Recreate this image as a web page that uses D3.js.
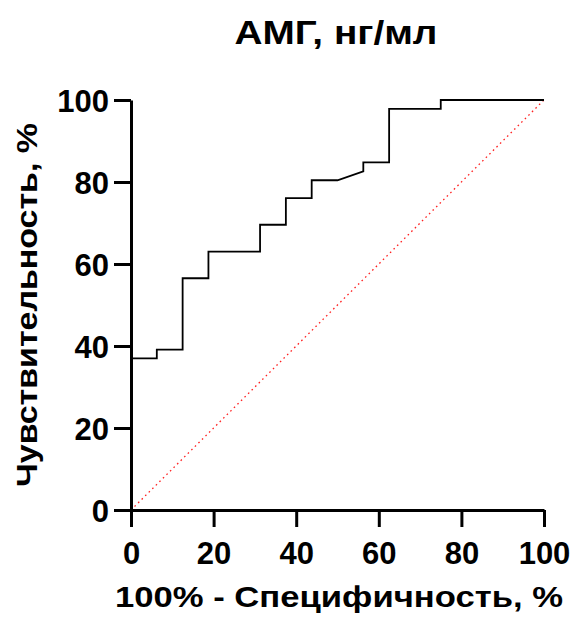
<!DOCTYPE html>
<html>
<head>
<meta charset="utf-8">
<script src="https://cdn.jsdelivr.net/npm/d3@7"></script>
<style>
  body { margin: 0; background: #fff; }
  text { font-family: "Liberation Sans", Arial, sans-serif; font-weight: bold; }
</style>
</head>
<body>
<svg width="574" height="617"></svg>
<script>
// ROC curve points: 100% - specificity (x) and sensitivity (y)
const specificity = [0, 0, 6.25, 6.25, 12.5, 12.5, 18.75, 18.75, 31.25, 31.25, 37.5, 37.5,
    43.75, 43.75, 50, 56.25, 56.25, 62.5, 62.5, 75, 75, 100];
const sensitivity = [0, 36.96, 36.96, 39.13, 39.13, 56.52, 56.52, 63.04, 63.04, 69.57, 69.57, 76.09,
    76.09, 80.43, 80.43, 82.61, 84.78, 84.78, 97.83, 97.83, 100, 100];
const tickValues = [0, 20, 40, 60, 80, 100];
const refLine = [0, 100];

const svg = d3.select('svg');

const xScale = d3.scaleLinear().domain([0, 100]).range([131, 544]);
const yScale = d3.scaleLinear().domain([0, 100]).range([510, 100]);

// reference diagonal
svg.append('line')
    .attr('x1', xScale(refLine[0]))
    .attr('y1', yScale(refLine[0]))
    .attr('x2', xScale(refLine[1]))
    .attr('y2', yScale(refLine[1]))
    .attr('stroke', '#ff2020')
    .attr('stroke-width', 1.3)
    .attr('stroke-dasharray', '1.6,3.4');

const xAxis = svg.append('g')
    .attr('transform', `translate(0, ${yScale(0)})`)
    .call(d3.axisBottom(xScale).tickValues(tickValues).tickSize(17).tickSizeOuter(0).tickPadding(8));

const yAxis = svg.append('g')
    .attr('transform', `translate(${xScale(0)}, 0)`)
    .call(d3.axisLeft(yScale).tickValues(tickValues).tickSize(17).tickSizeOuter(0).tickPadding(5));

[xAxis, yAxis].forEach(a => {
    a.selectAll('path, line').attr('stroke', '#000').attr('stroke-width', 3);
    a.selectAll('text').attr('fill', '#000').style('font-size', '31px');
});
xAxis.selectAll('text').attr('dy', '0.92em');
yAxis.selectAll('text').attr('dy', '0.36em');

const pts = specificity.map((s, i) => [s, sensitivity[i]]);
const line = d3.line().x(d => xScale(d[0])).y(d => yScale(d[1]));

svg.append('path')
    .datum(pts)
    .attr('d', line)
    .attr('fill', 'none')
    .attr('stroke', '#000')
    .attr('stroke-width', 1.8);

// titles
svg.append('text')
    .attr('x', 336)
    .attr('y', 44)
    .attr('text-anchor', 'middle')
    .attr('textLength', 203)
    .attr('lengthAdjust', 'spacingAndGlyphs')
    .style('font-size', '34px')
    .text('АМГ, нг/мл');

svg.append('text')
    .attr('x', 339)
    .attr('y', 607)
    .attr('text-anchor', 'middle')
    .attr('textLength', 448)
    .attr('lengthAdjust', 'spacingAndGlyphs')
    .style('font-size', '30px')
    .text('100% - Специфичность, %');

svg.append('text')
    .attr('transform', 'translate(37, 305) rotate(-90)')
    .attr('text-anchor', 'middle')
    .attr('textLength', 364)
    .attr('lengthAdjust', 'spacingAndGlyphs')
    .style('font-size', '30px')
    .text('Чувствительность, %');
</script>
</body>
</html>
